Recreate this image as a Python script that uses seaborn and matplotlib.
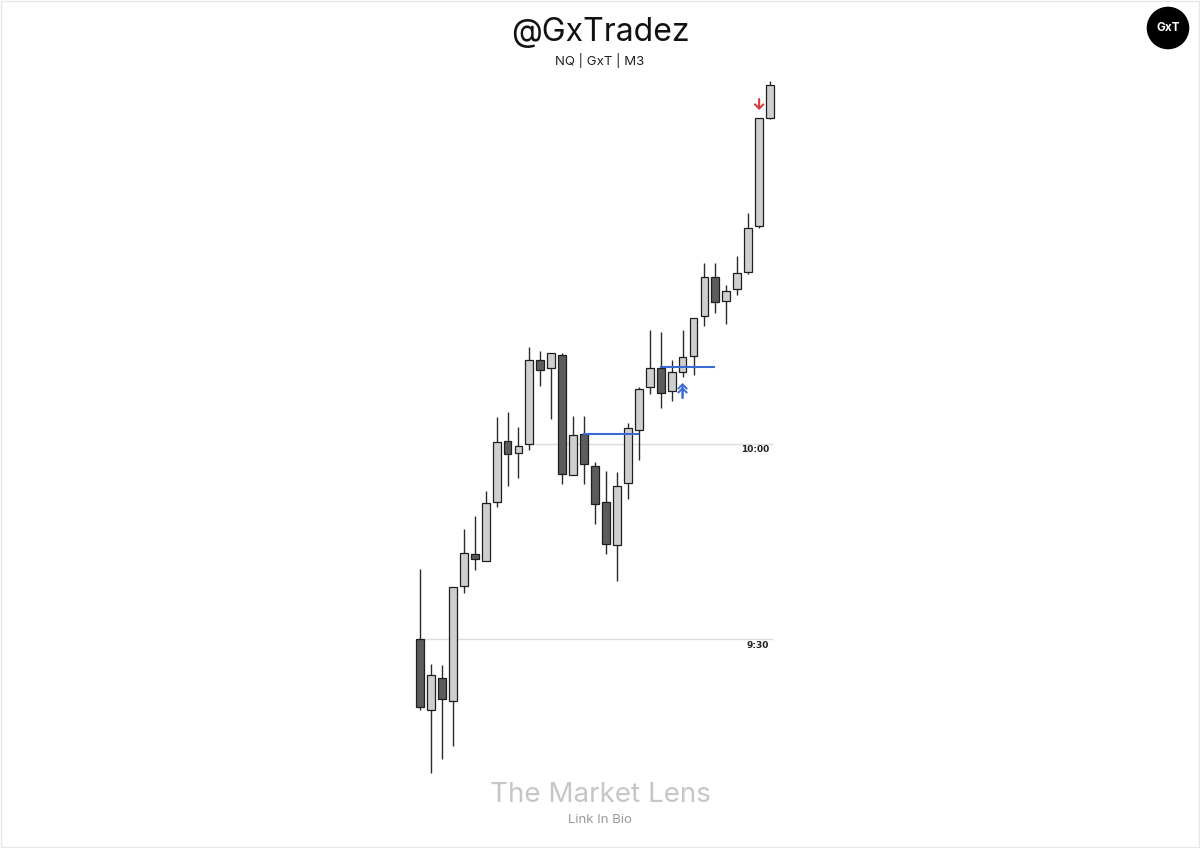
import matplotlib
matplotlib.use("Agg")
import matplotlib.pyplot as plt
import seaborn as sns
import numpy as np
import pandas as pd

# ---- data (price units) ----
opens  = [209, 138, 170, 147, 262, 294, 287, 346, 407, 395, 404, 488, 480, 493, 373, 414, 382,
          346, 303, 365, 418, 461, 480, 457, 476, 492, 532, 571, 547, 559, 576, 622, 730]
highs  = [279, 184, 183, 261, 319, 332, 357, 431, 436, 421, 501, 497, 495, 495, 432, 432, 386,
          377, 376, 425, 461, 518, 516, 488, 518, 530, 585, 585, 563, 592, 635, 730, 767]
lows   = [138,  75,  89, 102, 255, 278, 287, 341, 362, 370, 398, 462, 429, 364, 373, 364, 324,
          294, 267, 349, 388, 454, 440, 447, 471, 473, 522, 535, 524, 553, 574, 620, 729]
closes = [141, 173, 149, 261, 295, 289, 345, 406, 394, 402, 488, 478, 495, 374, 413, 384, 344,
          304, 362, 420, 459, 480, 455, 476, 491, 530, 571, 546, 557, 575, 620, 730, 763]

session_labels = ["9:30", "10:00"]
session_index = [0, 10]
blue_levels = [414, 481]
blue_level_start = [15, 22]
blue_level_end = [20, 27]
buy_signal_index = 24
sell_signal_index = 31

df = pd.DataFrame({"o": opens, "h": highs, "l": lows, "c": closes})
df["i"] = np.arange(len(df))
df["bull"] = df["c"] >= df["o"]

sns.set_theme(style="white")
plt.rcParams["font.family"] = ["Inter", "DejaVu Sans"]

fig = plt.figure(figsize=(12, 8.48), dpi=100)
ax = fig.add_axes([0, 0, 1, 1])
step = 10.94
ax.set_xlim(-420 / step, 780 / step)
ax.set_ylim(0, 848)
ax.axis("off")

LIGHT = "#cfcfcf"
DARK = "#5c5c5c"
EDGE = "#1e1e1e"
BLUE = "#3a6ad4"
RED = "#d83a3a"

# session lines at the open of the session candle
line_end = 32.3
for lab, si in zip(session_labels, session_index):
    lvl = df["o"][si]
    ax.hlines(lvl, si, line_end, color="#dcdcdc", lw=1.0, zorder=1)
    ax.text(31.9, lvl - 6, lab, ha="right", va="center", fontsize=6.5,
            fontweight="bold", color="#222222", family=["DejaVu Sans"])

# wicks
ax.vlines(df["i"], df["l"], df["h"], color="#2a2a2a", lw=1.0, zorder=2)

# bodies
body_bottom = np.minimum(df["o"], df["c"])
body_h = np.abs(df["c"] - df["o"])
colors = [LIGHT if b else DARK for b in df["bull"]]
ax.bar(df["i"], body_h, bottom=body_bottom, width=0.72, color=colors,
       edgecolor=EDGE, linewidth=0.9, zorder=3)

# blue levels
for lvl, s, e in zip(blue_levels, blue_level_start, blue_level_end):
    ax.hlines(lvl, s - 0.1, e, color=BLUE, lw=1.5, zorder=4)

# signals
astyle = "->,head_length=0.3,head_width=0.3"
bi = buy_signal_index
by = df["l"][bi] - 6
ax.annotate("", xy=(bi, by), xytext=(bi, by - 15),
            arrowprops=dict(arrowstyle=astyle, color=BLUE, lw=1.4, mutation_scale=10,
                            shrinkA=0, shrinkB=0), zorder=5)
ax.annotate("", xy=(bi, by - 4), xytext=(bi, by - 15),
            arrowprops=dict(arrowstyle=astyle, color=BLUE, lw=1.4, mutation_scale=10,
                            shrinkA=0, shrinkB=0), zorder=5)
si_ = sell_signal_index
sy = df["h"][si_] + 8
ax.annotate("", xy=(si_, sy), xytext=(si_, sy + 11),
            arrowprops=dict(arrowstyle=astyle, color=RED, lw=1.5, mutation_scale=10,
                            shrinkA=0, shrinkB=0), zorder=5)

# texts
fig.text(0.5, 1 - 32 / 848, "@GxTradez", ha="center", va="center", fontsize=23, color="#111111")
fig.text(0.5, 1 - 60 / 848, "NQ | GxT | M3", ha="center", va="center", fontsize=9.5, color="#222222")
fig.text(0.5, 1 - 795 / 848, "The Market Lens", ha="center", va="center", fontsize=20, color="#c6c6c6")
fig.text(0.5, 1 - 820 / 848, "Link In Bio", ha="center", va="center", fontsize=9.5, color="#9a9a9a")

# logo
fig.text(1168 / 1200, 1 - 28 / 848, "GxT", ha="center", va="center", fontsize=8.5,
         fontweight="bold", color="white",
         bbox=dict(boxstyle="circle,pad=0.75", fc="black", ec="black"))

# frame
fig.patches.append(matplotlib.patches.Rectangle((0.001, 0.001), 0.998, 0.998, transform=fig.transFigure,
                                                fill=False, ec="#e6e6e6", lw=1.0))

fig.savefig("out.png", dpi=100, facecolor="white")
